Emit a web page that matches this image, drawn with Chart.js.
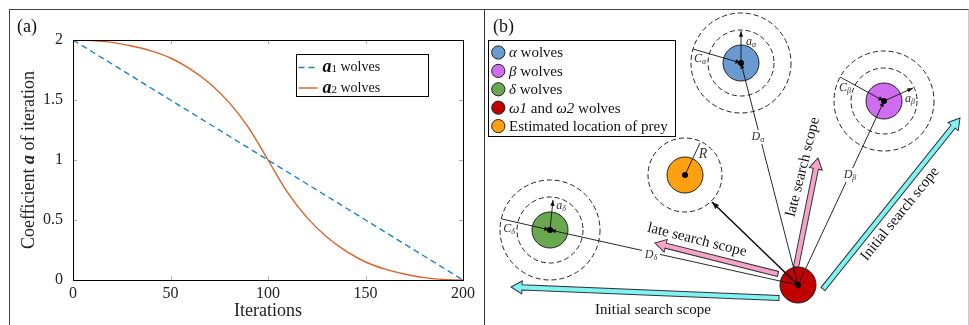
<!DOCTYPE html>
<html>
<head>
<meta charset="utf-8">
<title>Coefficient a and search scope</title>
<script src="https://cdn.jsdelivr.net/npm/chart.js@4.4.1/dist/chart.umd.min.js"></script>
<style>
  html, body { margin: 0; padding: 0; background: #fff; }
  body { position: relative; width: 969px; height: 325px; overflow: hidden; font-family: 'Liberation Serif', 'Times New Roman', serif; color: #111; }
  .frame { position: absolute; left: 9px; top: 9px; width: 958px; height: 330px; border-top: 1px solid #444; border-left: 1px solid #444; border-right: 1px solid #ccc; }
  .divider { position: absolute; left: 484px; top: 9px; width: 1px; height: 316px; background: #333; }
  .tag { position: absolute; top: 17px; font-size: 18px; line-height: 18px; }
  canvas { position: absolute; }
  /* the sketch canvas is 19px bigger on each side: Chart.js keeps that much room for the big points */
  #chartB { left: 466px; top: -19px; }
</style>
</head>
<body>
<div class="frame"></div>
<div class="divider"></div>
<canvas id="chartA" width="484" height="325" style="left:0;top:0"></canvas>
<canvas id="chartB" width="522" height="363"></canvas>
<div class="tag" style="left:17px">(a)</div>
<div class="tag" style="left:493px">(b)</div>

<script>
const serif = "'Liberation Serif', 'Times New Roman', serif";

// ---- (a) coefficient a over the iterations ----
const iterations = [0, 10, 20, 30, 40, 50, 60, 70, 80, 90, 100, 110, 120, 130, 140, 150, 160, 170, 180, 190, 200];
const a1Values = [2, 1.9, 1.8, 1.7, 1.6, 1.5, 1.4, 1.3, 1.2, 1.1, 1, 0.9, 0.8, 0.7, 0.6, 0.5, 0.4, 0.3, 0.2, 0.1, 0];
const a2Values = [2, 1.995, 1.98, 1.95, 1.91, 1.85, 1.76, 1.64, 1.48, 1.27, 1, 0.73, 0.52, 0.36, 0.24, 0.15, 0.09, 0.05, 0.02, 0.005, 0];
const xTicks = [0, 50, 100, 150, 200];
const yTicks = [0, 0.5, 1, 1.5, 2];

// ---- (b) search scope sketch, in sketch units (x right, y down) ----
const wolfLabels = ['*α* wolves', '*β* wolves', '*δ* wolves', '*ω1* and *ω2* wolves', 'Estimated location of prey'];
const wolfX = [256, 399, 65, 313, 200];
const wolfY = [63, 101, 230, 285, 175];
const ringRadii = [[33, 50], [33, 50], [33, 50], [], [37]];

// thin links: D, prey, C, a and R lines
const linkStart = [[313, 285], [313, 285], [313, 285], [313, 285], [208, 49], [256, 63], [355, 77], [399, 101], [17, 219], [65, 230], [200, 175]];
const linkEnd = [[256, 63], [399, 101], [65, 230], [227, 202], [256, 63], [256, 31], [399, 101], [428, 88], [65, 230], [68, 200], [215, 143]];
const linkHead = [1, 1, 1, 1, 1, 1, 1, 1, 1, 1, 0];

const markText = ['D|α', 'D|β', 'D|δ', 'C|α', 'a|α', 'C|β', 'a|β', 'C|δ', 'a|δ', 'R|'];
const markX = [273, 365, 166, 215, 266, 360, 425, 24, 76, 218];
const markY = [137, 175, 255, 59, 42, 88, 99, 229, 206, 154];

// wide arrows for the search scope
const scopeText = ['late search scope', 'late search scope', 'Initial search scope', 'Initial search scope'];
const scopeTail = [[293, 274], [311, 267], [294, 298], [338, 289]];
const scopeHead = [[170, 243], [333, 158], [26, 287], [475, 118]];
const scopeTextAt = [[212, 240], [318, 167], [168, 310], [415, 214]];
const scopeTextAngle = [14, -76, 0, -51];

const wolfColors = ['#6a9bd0', '#cf6cf0', '#6aa84f', '#c00000', '#ffa010'];
const scopeColors = ['#f5a3c8', '#f5a3c8', '#7ff2f2', '#7ff2f2'];

function richParts(str, size) {
  // text between * is italic
  return str.split('*').map((t, i) => ({ text: t, font: (i % 2 ? 'italic ' : '') + size + 'px ' + serif })).filter(p => p.text);
}

function drawParts(ctx, parts, x, y, align) {
  let w = 0;
  parts.forEach(p => { ctx.font = p.font; p.w = ctx.measureText(p.text).width; w += p.w; });
  let cx = align === 'center' ? x - w / 2 : x;
  ctx.textAlign = 'left';
  parts.forEach(p => { ctx.font = p.font; ctx.fillText(p.text, cx, y + (p.dy || 0)); cx += p.w; });
  return w;
}

// ---------- chart (a) ----------
const frameA = {
  id: 'frameA',
  afterDraw(chart) {
    const { ctx, chartArea: a } = chart;
    ctx.save();
    ctx.strokeStyle = '#000';
    ctx.lineWidth = 1;
    ctx.strokeRect(a.left + 0.5, a.top + 0.5, a.right - a.left, a.bottom - a.top);
    ctx.restore();
  }
};

const inwardTicks = {
  id: 'inwardTicks',
  beforeDatasetsDraw(chart) {
    const { ctx, chartArea: a, scales: { x, y } } = chart;
    ctx.save();
    ctx.strokeStyle = '#b0b0b0';
    ctx.lineWidth = 1;
    ctx.beginPath();
    xTicks.forEach(v => {
      const px = Math.round(x.getPixelForValue(v)) + 0.5;
      ctx.moveTo(px, a.bottom); ctx.lineTo(px, a.bottom - 4);
      ctx.moveTo(px, a.top); ctx.lineTo(px, a.top + 4);
    });
    yTicks.forEach(v => {
      const py = Math.round(y.getPixelForValue(v)) + 0.5;
      ctx.moveTo(a.left, py); ctx.lineTo(a.left + 4, py);
      ctx.moveTo(a.right, py); ctx.lineTo(a.right - 4, py);
    });
    ctx.stroke();
    ctx.restore();
  }
};

const yTitle = {
  id: 'yTitle',
  afterDraw(chart) {
    const { ctx, chartArea: a } = chart;
    ctx.save();
    ctx.translate(28, (a.top + a.bottom) / 2);
    ctx.rotate(-Math.PI / 2);
    ctx.fillStyle = '#222';
    ctx.textBaseline = 'middle';
    drawParts(ctx, [
      { text: 'Coefficient ', font: '18px ' + serif },
      { text: 'a', font: 'italic bold 18px ' + serif },
      { text: ' of iteration', font: '18px ' + serif }
    ], 0, 1, 'center');
    ctx.restore();
  }
};

const legendA = {
  id: 'legendA',
  afterDraw(chart) {
    const { ctx } = chart;
    const bx = 296.5, by = 54.5, bw = 132, bh = 42;
    ctx.save();
    ctx.fillStyle = '#fff';
    ctx.fillRect(bx, by, bw, bh);
    ctx.strokeStyle = '#000';
    ctx.lineWidth = 1;
    ctx.strokeRect(bx, by, bw, bh);
    chart.data.datasets.forEach((ds, i) => {
      const ry = by + 13 + i * 20.5;
      ctx.strokeStyle = ds.borderColor;
      ctx.lineWidth = ds.borderWidth;
      ctx.setLineDash(ds.borderDash || []);
      ctx.beginPath();
      ctx.moveTo(bx + 2, ry); ctx.lineTo(bx + 21, ry);
      ctx.stroke();
      ctx.setLineDash([]);
      ctx.fillStyle = '#111';
      ctx.textBaseline = 'middle';
      drawParts(ctx, [
        { text: 'a', font: 'italic bold 18px ' + serif },
        { text: String(i + 1), font: '11px ' + serif, dy: 2 },
        { text: ' wolves', font: '14px ' + serif }
      ], bx + 26, ry, 'left');
    });
    ctx.restore();
  }
};

new Chart(document.getElementById('chartA'), {
  type: 'line',
  data: {
    datasets: [
      {
        label: 'a1 wolves',
        data: iterations.map((t, i) => ({ x: t, y: a1Values[i] })),
        borderColor: '#1f80c2',
        borderWidth: 1.4,
        borderDash: [6, 4],
        pointRadius: 0,
        tension: 0
      },
      {
        label: 'a2 wolves',
        data: iterations.map((t, i) => ({ x: t, y: a2Values[i] })),
        borderColor: '#d9622b',
        borderWidth: 1.4,
        pointRadius: 0,
        cubicInterpolationMode: 'monotone'
      }
    ]
  },
  options: {
    responsive: false,
    animation: false,
    events: [],
    layout: { padding: { top: 40, right: 21, left: 0, bottom: 0 } },
    plugins: { legend: { display: false }, tooltip: { enabled: false } },
    scales: {
      x: {
        type: 'linear', min: 0, max: 200,
        afterBuildTicks: s => { s.ticks = xTicks.map(v => ({ value: v })); },
        grid: { display: false, drawTicks: false },
        border: { display: true, color: '#000', width: 1 },
        ticks: { padding: 4, color: '#222', maxRotation: 0, font: { family: serif, size: 16 }, callback: v => String(v) },
        title: { display: true, text: 'Iterations', color: '#222', font: { family: serif, size: 18 }, padding: { top: 0, bottom: 3 } },
        afterFit: s => { s.height = 45; }
      },
      y: {
        type: 'linear', min: 0, max: 2,
        afterBuildTicks: s => { s.ticks = yTicks.map(v => ({ value: v })); },
        grid: { display: false, drawTicks: false },
        border: { display: true, color: '#000', width: 1 },
        ticks: { padding: 10, color: '#222', font: { family: serif, size: 16 }, callback: v => String(v) },
        afterFit: s => { s.width = 73; }
      }
    }
  },
  plugins: [inwardTicks, frameA, yTitle, legendA]
});

// ---------- chart (b) ----------
function blockArrow(ctx, x0, y0, x1, y1, fill) {
  const ang = Math.atan2(y1 - y0, x1 - x0), len = Math.hypot(x1 - x0, y1 - y0);
  const sw = 2.6, hw = 6.5, hl = 11;
  ctx.save();
  ctx.translate(x0, y0);
  ctx.rotate(ang);
  ctx.beginPath();
  ctx.moveTo(0, -sw); ctx.lineTo(len - hl, -sw); ctx.lineTo(len - hl, -hw); ctx.lineTo(len, 0);
  ctx.lineTo(len - hl, hw); ctx.lineTo(len - hl, sw); ctx.lineTo(0, sw);
  ctx.closePath();
  ctx.fillStyle = fill;
  ctx.fill();
  ctx.strokeStyle = '#333';
  ctx.lineWidth = 1;
  ctx.stroke();
  ctx.restore();
}

function headAt(ctx, x0, y0, x1, y1, size) {
  const ang = Math.atan2(y1 - y0, x1 - x0);
  ctx.save();
  ctx.translate(x1, y1);
  ctx.rotate(ang);
  ctx.beginPath();
  ctx.moveTo(0, 0); ctx.lineTo(-size * 1.6, -size * 0.6); ctx.lineTo(-size * 1.6, size * 0.6);
  ctx.closePath();
  ctx.fillStyle = '#111';
  ctx.fill();
  ctx.restore();
}

const sketchUnderlay = {
  id: 'sketchUnderlay',
  beforeDatasetsDraw(chart) {
    const { ctx, scales: { x, y } } = chart;
    const unit = x.getPixelForValue(1) - x.getPixelForValue(0);
    ctx.save();
    ctx.strokeStyle = '#222';
    ctx.lineWidth = 1;
    ctx.setLineDash([5, 3]);
    wolfX.forEach((wx, i) => {
      ringRadii[i].forEach(r => {
        ctx.beginPath();
        ctx.arc(x.getPixelForValue(wx), y.getPixelForValue(wolfY[i]), r * unit, 0, Math.PI * 2);
        ctx.stroke();
      });
    });
    ctx.setLineDash([]);
    scopeTail.forEach((t, i) => {
      blockArrow(ctx, x.getPixelForValue(t[0]), y.getPixelForValue(t[1]),
        x.getPixelForValue(scopeHead[i][0]), y.getPixelForValue(scopeHead[i][1]), scopeColors[i]);
    });
    ctx.restore();
  },
  afterDatasetDraw(chart, args) {
    const ds = chart.data.datasets[args.index];
    if (ds.linkIndex === undefined || !linkHead[ds.linkIndex]) return;
    const p = args.meta.data;
    headAt(chart.ctx, p[0].x, p[0].y, p[1].x, p[1].y, ds.linkIndex === 3 ? 4.5 : 3.6);
  },
  afterDatasetsDraw(chart) {
    const { ctx, scales: { x, y } } = chart;
    ctx.save();
    ctx.textBaseline = 'middle';
    // scope captions
    scopeText.forEach((t, i) => {
      ctx.save();
      ctx.translate(x.getPixelForValue(scopeTextAt[i][0]), y.getPixelForValue(scopeTextAt[i][1]));
      ctx.rotate(scopeTextAngle[i] * Math.PI / 180);
      ctx.fillStyle = '#111';
      drawParts(ctx, [{ text: t, font: '15px ' + serif }], 0, 0, 'center');
      ctx.restore();
    });
    // distance labels
    markText.forEach((t, i) => {
      const [main, sub] = t.split('|');
      const px = x.getPixelForValue(markX[i]), py = y.getPixelForValue(markY[i]);
      const parts = [{ text: main, font: 'italic ' + (main === 'R' ? 14 : 12) + 'px ' + serif }];
      if (sub) parts.push({ text: sub, font: 'italic 8px ' + serif, dy: 3 });
      if (main === 'D') {
        ctx.fillStyle = '#fff';
        ctx.fillRect(px - 9, py - 7, 18, 14);
      }
      ctx.fillStyle = '#333';
      drawParts(ctx, parts, px, py, 'center');
    });
    // legend, placed in sketch units like everything else
    const bx = x.getPixelForValue(3) + 0.5, by = y.getPixelForValue(40) + 0.5, bw = 187, bh = 96;
    ctx.fillStyle = '#fff';
    ctx.fillRect(bx, by, bw, bh);
    ctx.strokeStyle = '#000';
    ctx.lineWidth = 1;
    ctx.strokeRect(bx, by, bw, bh);
    const wolves = chart.data.datasets[0];
    wolfLabels.forEach((lab, i) => {
      const ry = by + 12 + i * 18.4;
      ctx.beginPath();
      ctx.arc(bx + 9.8, ry, 6.6, 0, Math.PI * 2);
      ctx.fillStyle = wolves.pointBackgroundColor[i];
      ctx.fill();
      ctx.strokeStyle = '#222';
      ctx.stroke();
      ctx.fillStyle = '#111';
      drawParts(ctx, richParts(lab, 15), bx + 20.5, ry + 1, 'left');
    });
    ctx.restore();
  }
};

const linkSets = linkStart.map((s, i) => ({
  linkIndex: i,
  data: [{ x: s[0], y: s[1] }, { x: linkEnd[i][0], y: linkEnd[i][1] }],
  showLine: true,
  borderColor: '#111',
  borderWidth: i === 3 ? 1.6 : 0.9,
  pointRadius: 0,
  clip: false,
  order: 2
}));

new Chart(document.getElementById('chartB'), {
  type: 'scatter',
  data: {
    datasets: [
      {
        label: 'wolves',
        data: wolfX.map((wx, i) => ({ x: wx, y: wolfY[i] })),
        pointBackgroundColor: wolfColors,
        pointBorderColor: '#222',
        pointBorderWidth: 1,
        pointRadius: 18,
        clip: false,
        order: 3
      },
      {
        label: 'centres',
        data: wolfX.map((wx, i) => ({ x: wx, y: wolfY[i] })),
        pointBackgroundColor: '#000',
        pointBorderWidth: 0,
        pointRadius: 3,
        clip: false,
        order: 1
      },
      ...linkSets
    ]
  },
  options: {
    responsive: false,
    animation: false,
    events: [],
    layout: { padding: 0 },
    plugins: { legend: { display: false }, tooltip: { enabled: false } },
    scales: {
      x: { type: 'linear', min: 0, max: 484, display: false },
      y: { type: 'linear', min: 0, max: 325, reverse: true, display: false }
    }
  },
  plugins: [sketchUnderlay]
});
</script>
</body>
</html>
